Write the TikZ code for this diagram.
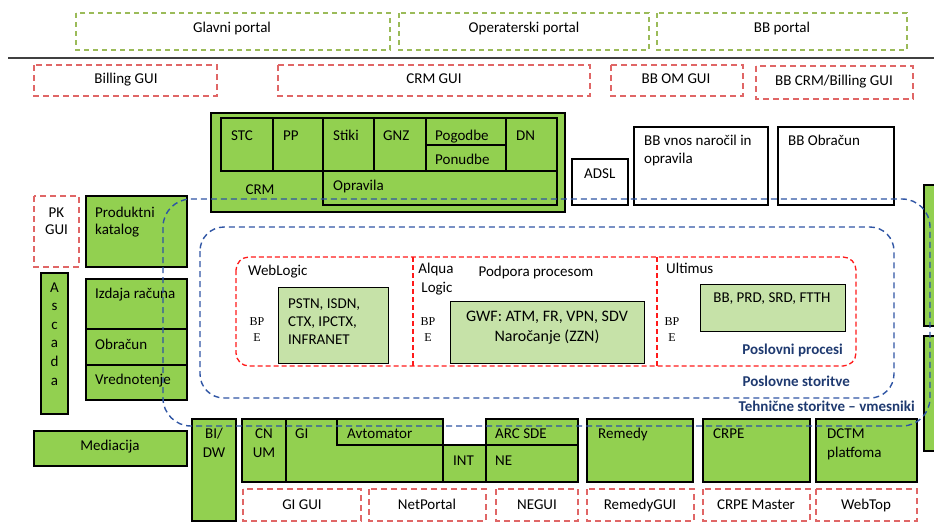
\documentclass[tikz,border=0pt]{standalone}
\usepackage{fontspec}
\setmainfont{Carlito}
\newfontfamily\bpfont{Liberation Serif}
\newcommand\fs{\fontsize{15}{18}\selectfont}
\newcommand\fsbig{\fontsize{16}{19}\selectfont}
\newcommand\fsbp{\bpfont\fontsize{12}{14}\selectfont}
\definecolor{gfill}{HTML}{92D050}
\definecolor{lgfill}{HTML}{C6E2A8}
\definecolor{guired}{HTML}{E06666}
\definecolor{portalg}{HTML}{9BBB59}
\definecolor{bline}{HTML}{2F55A4}
\definecolor{navy}{HTML}{1F3A70}
\definecolor{pred}{HTML}{FF1A1A}
\definecolor{sepline}{HTML}{404040}
\tikzset{
  gbox/.style={draw=black,fill=gfill,line width=1.2pt},
  wbox/.style={draw=black,fill=white,line width=1.2pt},
  guibox/.style={draw=guired,line width=1.3pt,dash pattern=on 6pt off 4pt},
  portalbox/.style={draw=portalg,line width=1.2pt,dash pattern=on 5pt off 4pt},
  lgbox/.style={fill=lgfill},
  bdash/.style={draw=bline,line width=1.4pt,dash pattern=on 6pt off 4pt},
  rdash/.style={draw=pred,line width=1.3pt,dash pattern=on 5pt off 3pt},
  tl/.style={anchor=base west,inner sep=0pt,font=\fs},
  tc/.style={anchor=base,inner sep=0pt,font=\fs},
  tcbig/.style={anchor=base,inner sep=0pt,font=\fsbig},
  bp/.style={anchor=base,inner sep=0pt,font=\fsbp},
  navytxt/.style={anchor=base east,inner sep=0pt,font=\fs\bfseries,text=navy},
}
\begin{document}
\begin{tikzpicture}[x=1pt,y=-1pt]
\useasboundingbox (0,0) rectangle (934,525);

% portals
\draw[portalbox] (76,13) rectangle (390,50);
\draw[portalbox] (399,13) rectangle (649,50);
\draw[portalbox] (657,13) rectangle (907,50);
\node[tc] (glavni) at (232,32) {Glavni portal};
\node[tc] (operater) at (524,32) {Operaterski portal};
\node[tc] (bbportal) at (782,32) {BB portal};

% separator
\draw[sepline,line width=1.5pt] (8,58) -- (940,58);

% GUI row
\draw[guibox] (34,65) rectangle (217,96);
\draw[guibox] (278,65) rectangle (590,96);
\draw[guibox] (611,65) rectangle (743,96);
\draw[guibox] (756,66) rectangle (913,99);
\node[tc] (billgui) at (126,83) {Billing GUI};
\node[tc] (crmgui) at (434,83) {CRM GUI};
\node[tc] (bbomgui) at (676,83) {BB OM GUI};
\node[tc] (bbcrmgui) at (834,85) {BB CRM/Billing GUI};

% CRM block
\draw[gbox] (211,113) rectangle (565,212);
\draw[gbox] (221,118) rectangle (273,171);
\draw[gbox] (273,118) rectangle (323,171);
\draw[gbox] (323,118) rectangle (374,171);
\draw[gbox] (374,118) rectangle (426,171);
\draw[gbox] (426,118) rectangle (506,145);
\draw[gbox] (426,145) rectangle (506,171);
\draw[gbox] (506,118) rectangle (557,171);
\draw[gbox] (323,171) rectangle (557,205);
\node[tl] (stc) at (231,140) {STC};
\node[tl] (pp) at (283,140) {PP};
\node[tl] (stiki) at (333,140) {Stiki};
\node[tl] (gnz) at (383,140) {GNZ};
\node[tl] (pogodbe) at (435,140) {Pogodbe};
\node[tl] (ponudbe) at (435,164) {Ponudbe};
\node[tl] (dn) at (516,140) {DN};
\node[tl] (opravila) at (333,190) {Opravila};
\node[tc] (crm) at (260,194) {CRM};

% BB boxes
\draw[wbox] (572,159) rectangle (628,205);
\draw[wbox] (634,127) rectangle (768,205);
\draw[wbox] (778,127) rectangle (894,205);
\node[tl] (adsl) at (584,178) {ADSL};
\node[tl] (bbvnos1) at (644,145) {BB vnos naročil in};
\node[tl] (bbvnos2) at (644,163) {opravila};
\node[tl] (bbobr) at (788,145) {BB Obračun};

% right edge boxes
\draw[gbox] (924,185) rectangle (944,326);
\draw[gbox] (924,336) rectangle (944,451);

% left column
\draw[guibox] (34,196) rectangle (79,267);
\node[tc] (pk1) at (56.5,217) {PK};
\node[tc] (pk2) at (56.5,234) {GUI};
\draw[gbox] (86,196) rectangle (187,267);
\node[tl] (prod1) at (95,217) {Produktni};
\node[tl] (prod2) at (95,234) {katalog};
\draw[gbox] (41,273) rectangle (68,414);
\foreach \ch/\i in {A/0,s/1,c/2,a/3,d/4,a/5}{
  \node[tc] (asc\i) at (54.5,292+18.6*\i) {\ch};
}
\draw[gbox] (86,279) rectangle (187,329);
\draw[gbox] (86,329) rectangle (187,365);
\draw[gbox] (86,365) rectangle (187,400);
\node[tl] (izdaja) at (95,298) {Izdaja računa};
\node[tl] (obracun) at (95,349) {Obračun};
\node[tl] (vredn) at (95,384) {Vrednotenje};
\draw[gbox] (34,431) rectangle (187,466);
\node[tc] (mediacija) at (110,450) {Mediacija};

% bottom row
\draw[gbox] (192,419) rectangle (236,521);
\node[tc] (bi1) at (214,438) {BI/};
\node[tc] (bi2) at (214,457) {DW};
\draw[gbox] (242,419) rectangle (286,482);
\node[tc] (cn1) at (264,438) {CN};
\node[tc] (cn2) at (264,457) {UM};
\draw[gbox] (286,419) rectangle (443,482);
\draw[gbox] (337,419) rectangle (443,445);
\draw[gbox] (443,445) rectangle (486,482);
\draw[gbox] (486,419) rectangle (578,445);
\draw[gbox] (486,445) rectangle (578,482);
\node[tl] (gi) at (295,438) {GI};
\node[tl] (avtomator) at (347,438) {Avtomator};
\node[tl] (int) at (453,465) {INT};
\node[tl] (arcsde) at (495,438) {ARC SDE};
\node[tl] (ne) at (495,465) {NE};
\draw[gbox] (587,419) rectangle (693,482);
\node[tl] (remedy) at (598,438) {Remedy};
\draw[gbox] (703,419) rectangle (810,482);
\node[tl] (crpe) at (713,438) {CRPE};
\draw[gbox] (816,419) rectangle (917,482);
\node[tl] (dctm1) at (827,438) {DCTM};
\node[tl] (dctm2) at (827,457) {platfoma};

% bottom GUI row
\draw[guibox] (243,489) rectangle (361,521);
\draw[guibox] (369,489) rectangle (486,521);
\draw[guibox] (496,489) rectangle (578,521);
\draw[guibox] (587,489) rectangle (694,521);
\draw[guibox] (703,489) rectangle (810,521);
\draw[guibox] (816,489) rectangle (917,521);
\node[tc] (gigui) at (302,509) {GI GUI};
\node[tc] (netportal) at (427,509) {NetPortal};
\node[tc] (negui) at (537,509) {NEGUI};
\node[tc] (remedygui) at (640,509) {RemedyGUI};
\node[tc] (crpemaster) at (756,509) {CRPE Master};
\node[tc] (webtop) at (866,509) {WebTop};

% Poslovni procesi
\draw[lgbox] (278,287) rectangle (388,363);
\draw[lgbox] (450,301) rectangle (644,363);
\draw[lgbox] (700,284) rectangle (845,331);
\draw[rdash,rounded corners=13pt] (236,257) rectangle (856,366);
\draw[rdash] (413,257) -- (413,366);
\draw[rdash] (657,257) -- (657,366);
\node[tl] (weblogic) at (248,275) {WebLogic};
\node[bp] (bp1a) at (257,325) {BP};
\node[bp] (bp1b) at (257,341) {E};
\node[tl] (pstn1) at (288,308) {PSTN, ISDN,};
\node[tl] (pstn2) at (288,326) {CTX, IPCTX,};
\node[tl] (pstn3) at (288,344) {INFRANET};
\node[tc] (alqua1) at (436,273) {Alqua};
\node[tc] (alqua2) at (437,292) {Logic};
\node[bp] (bp2a) at (428,325) {BP};
\node[bp] (bp2b) at (428,341) {E};
\node[tc] (podpora) at (536,276) {Podpora procesom};
\node[tcbig] (gwf1) at (547,321.5) {GWF: ATM, FR, VPN, SDV};
\node[tcbig] (gwf2) at (547,341.5) {Naročanje (ZZN)};
\node[tl] (ultimus) at (666,273) {Ultimus};
\node[bp] (bp3a) at (672,325) {BP};
\node[bp] (bp3b) at (672,341) {E};
\node[tc] (bbprd) at (772,302) {BB, PRD, SRD, FTTH};
\node[navytxt] (posproc) at (843,354) {Poslovni procesi};

% Poslovne storitve
\draw[bdash,rounded corners=24pt] (200,227) rectangle (894,398);
\node[navytxt] (posstor) at (850,386) {Poslovne storitve};

% Tehnicne storitve
\draw[bdash,rounded corners=28pt] (163,199) rectangle (930,426);
\node[navytxt] (tehn) at (915,411) {Tehnične storitve – vmesniki};
\end{tikzpicture}
\end{document}
